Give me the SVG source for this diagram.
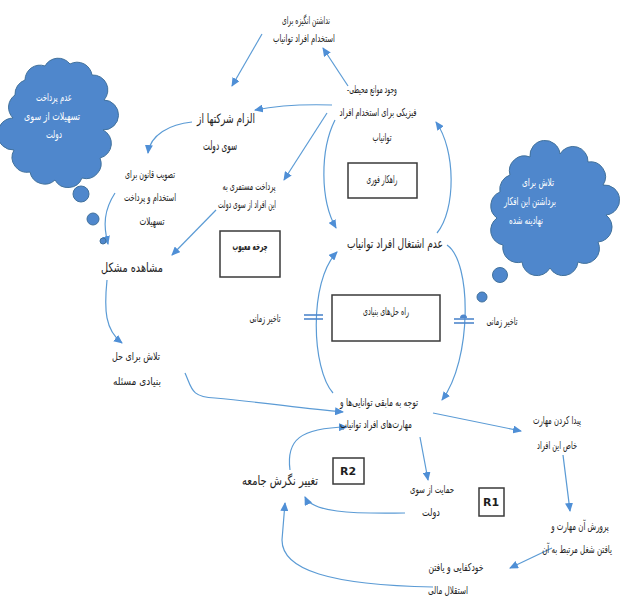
<svg xmlns="http://www.w3.org/2000/svg" width="637" height="597" viewBox="0 0 637 597">
<style>
.t{font-family:"DejaVu Sans","Noto Sans",sans-serif;font-size:11px;fill:#1e1e1e;text-anchor:middle;direction:rtl}
.tb{font-size:13px}
.w{fill:#ffffff}
.c{stroke:#5B9BD5;stroke-width:1.2;fill:none;marker-end:url(#ah)}
.box{fill:#ffffff;stroke:#3a3a3a;stroke-width:1.5}
.cloud{fill:#4F87CC;stroke:#41719C;stroke-width:1}
.d{stroke:#4F87CC;stroke-width:1.6}
</style>
<defs>
<marker id="ah" markerWidth="9" markerHeight="8" refX="8" refY="4" orient="auto" markerUnits="userSpaceOnUse">
<path d="M0,0 L9,4 L0,8 Z" fill="#4F8FD6"/>
</marker>
</defs>
<rect width="637" height="597" fill="#ffffff"/>

<g id="connectors">
<path class="c" d="M348,86 L323,48"/>
<path class="c" d="M262,34 L232,86"/>
<path class="c" d="M332,105 C300,104 275,106 255,110"/>
<path class="c" d="M327,113 L284,180"/>
<path class="c" d="M335,120 C320,150 320,200 336,228"/>
<path class="c" d="M437,233 C456,210 456,150 436,122"/>
<path class="c" d="M447,245 C472,262 472,360 442,400"/>
<path class="c" d="M333,393 C312,370 308,282 337,252"/>
<path class="c" d="M185,373 C192,388 190,397 215,398 C260,402 300,408 343,412"/>
<path class="c" d="M107,280 C104,310 105,330 122,343"/>
<path class="c" d="M115,193 C104,210 103,225 108,244"/>
<path class="c" d="M192,122 C170,124 150,135 148,153"/>
<path class="c" d="M216,210 L172,255"/>
<path class="c" d="M433,413 L521,431"/>
<path class="c" d="M563,455 L570,511"/>
<path class="c" d="M552,548 L510,568"/>
<path class="c" d="M420,437 L428,480"/>
<path class="c" d="M405,513 C350,514 312,512 305,497"/>
<path class="c" d="M290,470 C286,440 300,428 347,427"/>
<path class="c" d="M433,587 C330,585 282,570 282,540 L285,503"/>
</g>

<g id="delay-left">
<line class="d" x1="304" y1="315" x2="323" y2="315"/>
<line class="d" x1="304" y1="319" x2="323" y2="319"/>
<text class="t" x="265" y="322" textLength="31" lengthAdjust="spacingAndGlyphs">تاخیر زمانی</text>
</g>
<g id="delay-right">
<line class="d" x1="454" y1="319" x2="474" y2="319"/>
<line class="d" x1="454" y1="323" x2="474" y2="323"/>
<path d="M460,318 A3,3 0 0 1 467,318 Z" fill="#4F87CC"/>
<text class="t" x="502" y="325" textLength="31" lengthAdjust="spacingAndGlyphs">تاخیر زمانی</text>
</g>

<g id="cloud-left">
<path class="cloud" d="M25,80 A15,15 0 0 1 45,66 A15,15 0 0 1 70,64 A15,15 0 0 1 92,75 A15,15 0 0 1 104,100 A15,15 0 0 1 103,130 A15,15 0 0 1 100,158 A15,15 0 0 1 82,178 A15,15 0 0 1 55,180 A15,15 0 0 1 30,172 A15,15 0 0 1 14,150 A15,15 0 0 1 13,118 A15,15 0 0 1 15,95 A15,15 0 0 1 25,80 Z"/>
<text class="t w" x="54" y="101" textLength="36" lengthAdjust="spacingAndGlyphs">عدم پرداخت</text>
<text class="t w" x="52" y="120" textLength="56" lengthAdjust="spacingAndGlyphs">تسهیلات از سوی</text>
<text class="t w" x="54" y="138" textLength="16" lengthAdjust="spacingAndGlyphs">دولت</text>
<circle class="cloud" cx="81" cy="194" r="8"/>
<circle class="cloud" cx="93" cy="219" r="6"/>
<circle class="cloud" cx="103" cy="241" r="3"/>
</g>

<g id="cloud-right">
<path class="cloud" d="M510,175 A15,15 0 0 1 530,157 A15,15 0 0 1 560,154 A15,15 0 0 1 588,162 A15,15 0 0 1 603,185 A15,15 0 0 1 606,215 A15,15 0 0 1 598,242 A15,15 0 0 1 578,262 A15,15 0 0 1 550,268 A15,15 0 0 1 522,262 A15,15 0 0 1 503,245 A15,15 0 0 1 497,218 A15,15 0 0 1 500,192 A15,15 0 0 1 510,175 Z"/>
<text class="t w" x="538" y="186" textLength="32" lengthAdjust="spacingAndGlyphs">تلاش برای</text>
<text class="t w" x="530" y="205" textLength="52" lengthAdjust="spacingAndGlyphs">برداشتن این افکار</text>
<text class="t w" x="526" y="224" textLength="34" lengthAdjust="spacingAndGlyphs">نهادینه شده</text>
<circle class="cloud" cx="500" cy="275" r="7.5"/>
<circle class="cloud" cx="482" cy="297" r="5"/>
</g>

<g id="n-top"><text class="t" x="306" y="24" textLength="48" lengthAdjust="spacingAndGlyphs">نداشتن انگیزه برای</text><text class="t" x="304" y="42" textLength="62" lengthAdjust="spacingAndGlyphs">استخدام افراد توانیاب</text></g>
<g id="n-barriers"><text class="t" x="372" y="93" textLength="50" lengthAdjust="spacingAndGlyphs">وجود موانع محیطی-</text><text class="t" x="378" y="116" textLength="77" lengthAdjust="spacingAndGlyphs">فیزیکی برای استخدام افراد</text><text class="t" x="382" y="141" textLength="19" lengthAdjust="spacingAndGlyphs">توانیاب</text></g>
<g id="n-obligation"><text class="t tb" x="226" y="123" textLength="58" lengthAdjust="spacingAndGlyphs">الزام شرکتها از</text><text class="t tb" x="220" y="150" textLength="34" lengthAdjust="spacingAndGlyphs">سوی دولت</text></g>
<g id="n-law"><text class="t" x="150" y="178" textLength="50" lengthAdjust="spacingAndGlyphs">تصویب قانون برای</text><text class="t" x="150" y="201" textLength="52" lengthAdjust="spacingAndGlyphs">استخدام و پرداخت</text><text class="t" x="152" y="225" textLength="25" lengthAdjust="spacingAndGlyphs">تسهیلات</text></g>
<g id="n-pension"><text class="t" x="249" y="190" textLength="53" lengthAdjust="spacingAndGlyphs">پرداخت مستمری به</text><text class="t" x="247" y="208" textLength="58" lengthAdjust="spacingAndGlyphs">این افراد از سوی دولت</text></g>
<g id="n-observe"><text class="t tb" x="132" y="272" font-size="14" textLength="62" lengthAdjust="spacingAndGlyphs">مشاهده مشکل</text></g>
<g id="n-vicious"><rect class="box" x="220" y="231" width="60" height="46"/><text class="t" x="250" y="250" font-weight="bold" textLength="35" lengthAdjust="spacingAndGlyphs">چرخه معیوب</text></g>
<g id="n-quickfix"><rect class="box" x="348" y="163" width="69" height="35"/><text class="t" x="382" y="183" textLength="31" lengthAdjust="spacingAndGlyphs">راهکار فوری</text></g>
<g id="n-unemploy"><text class="t tb" x="395" y="248" textLength="96" lengthAdjust="spacingAndGlyphs">عدم اشتغال افراد توانیاب</text></g>
<g id="n-fundamental"><rect class="box" x="332" y="295" width="108" height="46"/><text class="t" x="386" y="315" textLength="46" lengthAdjust="spacingAndGlyphs">راه حل‌های بنیادی</text></g>
<g id="n-effort"><text class="t" x="136" y="360" textLength="48" lengthAdjust="spacingAndGlyphs">تلاش برای حل</text><text class="t" x="137" y="385" textLength="48" lengthAdjust="spacingAndGlyphs">بنیادی مسئله</text></g>
<g id="n-attention"><text class="t" x="379" y="406" textLength="78" lengthAdjust="spacingAndGlyphs">توجه به مابقی توانایی‌ها و</text><text class="t" x="376" y="428" textLength="72" lengthAdjust="spacingAndGlyphs">مهارت‌های افراد توانیاب</text></g>
<g id="n-findskill"><text class="t" x="557" y="424" textLength="48" lengthAdjust="spacingAndGlyphs">پیدا کردن مهارت</text><text class="t" x="557" y="449" textLength="40" lengthAdjust="spacingAndGlyphs">خاص این افراد</text></g>
<g id="n-r2"><rect class="box" x="333" y="458" width="31" height="26"/><text class="t" x="348" y="475" font-weight="bold" font-size="11">R2</text></g>
<g id="n-attitude"><text class="t tb" x="280" y="485" textLength="76" lengthAdjust="spacingAndGlyphs">تغییر نگرش جامعه</text></g>
<g id="n-support"><text class="t" x="432" y="493" textLength="44" lengthAdjust="spacingAndGlyphs">حمایت از سوی</text><text class="t" x="431" y="516" textLength="18" lengthAdjust="spacingAndGlyphs">دولت</text></g>
<g id="n-r1"><rect class="box" x="479" y="488" width="25" height="28"/><text class="t" x="491" y="506" font-weight="bold" font-size="11">R1</text></g>
<g id="n-cultivate"><text class="t" transform="translate(580,530) scale(0.64,1)" x="0" y="0" font-size="11">پرورش آن مهارت و</text><text class="t" transform="translate(577,553) scale(0.64,1)" x="0" y="0" font-size="11">یافتن شغل مرتبط به آن</text></g>
<g id="n-selfsuff"><text class="t" x="456" y="571" textLength="55" lengthAdjust="spacingAndGlyphs">خودکفایی و یافتن</text><text class="t" x="448" y="594" textLength="40" lengthAdjust="spacingAndGlyphs">استقلال مالی</text></g>
</svg>
